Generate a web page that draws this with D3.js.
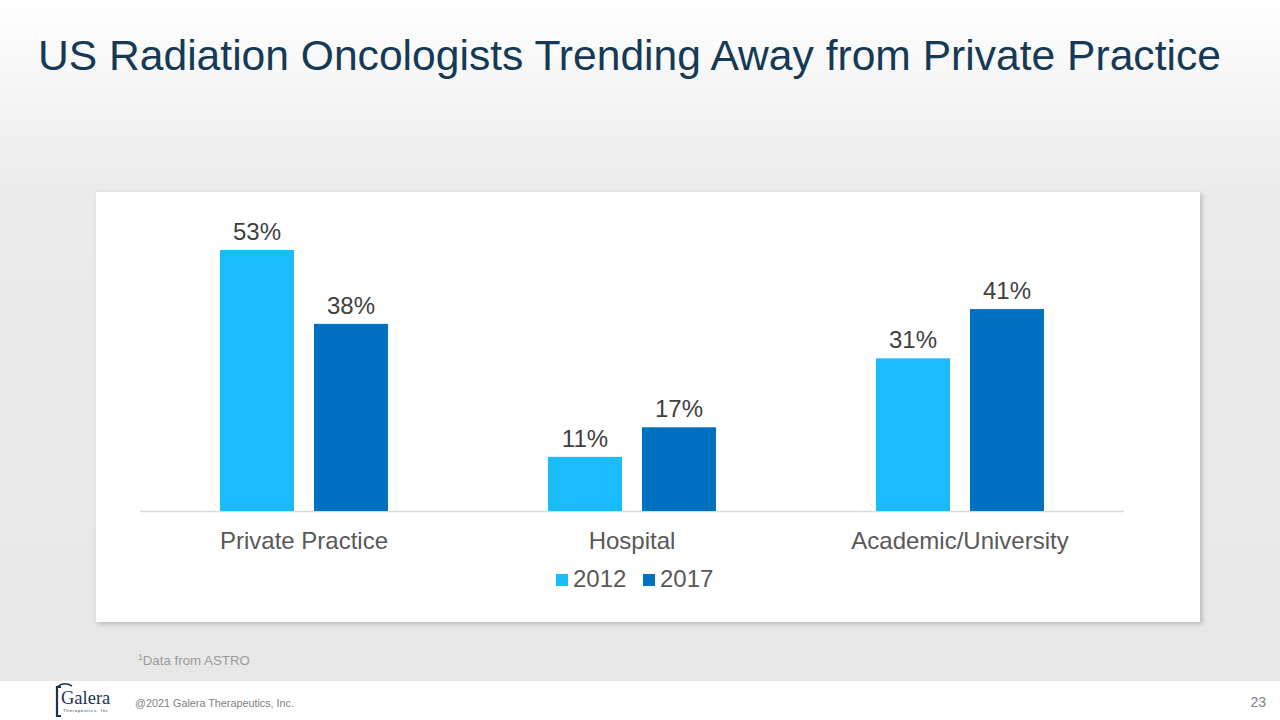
<!DOCTYPE html>
<html><head><meta charset="utf-8">
<script src="https://cdn.jsdelivr.net/npm/d3@7"></script>
<style>html,body{margin:0;padding:0;background:#fff;}svg{display:block;}</style>
</head><body>
<script>
const categories = ["Private Practice", "Hospital", "Academic/University"];
const seriesNames = ["2012", "2017"];
const values2012 = [53, 11, 31];
const values2017 = [38, 17, 41];
const colors = ["#1bbcfc", "#0070c0"];
const title = "US Radiation Oncologists Trending Away from Private Practice";
const footnote = "Data from ASTRO";
const copyright = "@2021 Galera Therapeutics, Inc.";
const pageNum = "23";

const W = 1280, H = 720;
const FONT = "Liberation Sans, Arial, sans-serif";
const svg = d3.select("body").append("svg").attr("width", W).attr("height", H);
const defs = svg.append("defs");
const grad = defs.append("linearGradient").attr("id","bg").attr("x1",0).attr("y1",0).attr("x2",0).attr("y2",1);
grad.append("stop").attr("offset","0%").attr("stop-color","#ffffff");
grad.append("stop").attr("offset","28%").attr("stop-color","#ebebeb");
grad.append("stop").attr("offset","100%").attr("stop-color","#e8e8e8");
const filt = defs.append("filter").attr("id","sh").attr("x","-5%").attr("y","-5%").attr("width","110%").attr("height","115%");
filt.append("feDropShadow").attr("dx",2).attr("dy",2).attr("stdDeviation",2.5).attr("flood-color","#000").attr("flood-opacity",0.22);

svg.append("rect").attr("x",0).attr("y",0).attr("width",W).attr("height",681).attr("fill","url(#bg)");
svg.append("rect").attr("x",0).attr("y",681).attr("width",W).attr("height",39).attr("fill","#ffffff");

svg.append("text").attr("x",38).attr("y",70).text(title)
  .attr("font-family",FONT).attr("font-size",42.6).attr("fill","#163a56");

// panel
svg.append("rect").attr("x",96).attr("y",192).attr("width",1104).attr("height",430).attr("fill","#fff").attr("filter","url(#sh)");

const x0 = d3.scaleBand().domain(categories).range([140,1124]).paddingInner(0).paddingOuter(0);
const y = d3.scaleLinear().domain([0,53]).range([511,250]);
const barW = 74, gap = 20;
const data = categories.map((c,i)=>({cat:c, vals:[values2012[i], values2017[i]]}));

const g = svg.append("g");
g.append("line").attr("x1",140).attr("x2",1124).attr("y1",511.5).attr("y2",511.5).attr("stroke","#d9d9d9").attr("stroke-width",1.5);

data.forEach(d=>{
  const cx = x0(d.cat) + x0.bandwidth()/2;
  d.vals.forEach((v,j)=>{
    const bx = j===0 ? cx - gap/2 - barW : cx + gap/2;
    g.append("rect").attr("x",bx).attr("y",y(v)).attr("width",barW).attr("height",y(0)-y(v)).attr("fill",colors[j]);
    g.append("text").attr("x",bx+barW/2).attr("y",y(v)-10).attr("text-anchor","middle")
      .attr("font-family",FONT).attr("font-size",24).attr("fill","#404040").text(v+"%");
  });
});

const xAxis = d3.axisBottom(x0).tickSize(0).tickPadding(0);
const ax = svg.append("g").attr("transform","translate(0,511)").call(xAxis);
ax.select(".domain").remove();
ax.selectAll("text").attr("dy",null).attr("y",38).attr("font-family",FONT).attr("font-size",24).attr("fill","#595959");

// legend
const leg = svg.append("g");
const legX = [556, 643];
seriesNames.forEach((s,i)=>{
  leg.append("rect").attr("x",legX[i]).attr("y",574).attr("width",12).attr("height",12).attr("fill",colors[i]);
  leg.append("text").attr("x",legX[i]+17).attr("y",587).text(s)
    .attr("font-family",FONT).attr("font-size",24).attr("fill","#595959");
});

// footnote
const fn = svg.append("text").attr("x",138).attr("y",665).attr("font-family",FONT).attr("font-size",13.3).attr("fill","#9a9a9a");
fn.append("tspan").attr("font-size",8.5).attr("dy",-5).text("1");
fn.append("tspan").attr("dy",5).text(footnote);

// footer
const logo = svg.append("g");
logo.append("path").attr("d","M61,687 L57,687 L57,716 L61,716").attr("fill","none").attr("stroke","#1a3350").attr("stroke-width",2.2);
logo.append("path").attr("d","M57,687 Q64,681 72,686").attr("fill","none").attr("stroke","#1a3350").attr("stroke-width",1.6);
logo.append("text").attr("x",61).attr("y",704).text("Galera").attr("font-family","Liberation Serif, serif").attr("font-size",18.5).attr("fill","#1a3350");
logo.append("text").attr("x",63).attr("y",712).text("Therapeutics, Inc").attr("font-family",FONT).attr("font-size",4.2).attr("letter-spacing",0.8).attr("fill","#1a3350");

svg.append("text").attr("x",135).attr("y",707).text(copyright).attr("font-family",FONT).attr("font-size",10.8).attr("fill","#808080");
svg.append("text").attr("x",1266).attr("y",707).attr("text-anchor","end").text(pageNum).attr("font-family",FONT).attr("font-size",14).attr("fill","#808080");
</script>
</body></html>
